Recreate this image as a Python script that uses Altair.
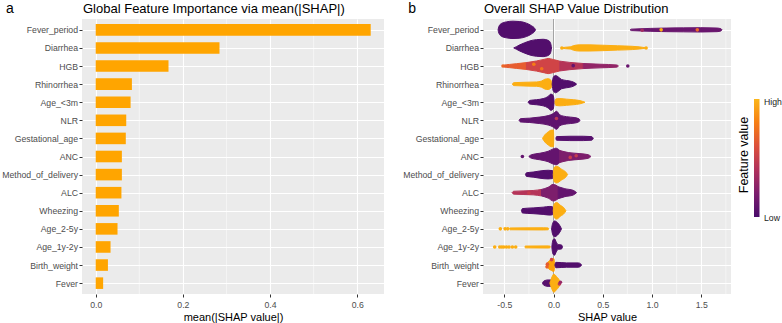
import json
import altair as alt
import pandas as pd

# ---------------- data ----------------
features = ["Fever_period", "Diarrhea", "HGB", "Rhinorrhea", "Age_<3m", "NLR",
            "Gestational_age", "ANC", "Method_of_delivery", "ALC", "Wheezing",
            "Age_2-5y", "Age_1y-2y", "Birth_weight", "Fever"]
mean_abs_shap = [0.631, 0.284, 0.167, 0.083, 0.080, 0.070, 0.069, 0.060,
                 0.060, 0.059, 0.053, 0.050, 0.034, 0.028, 0.017]

left_ticks = [0.0, 0.2, 0.4, 0.6]
left_minor = [0.1, 0.3, 0.5]
right_ticks = [-0.5, 0.0, 0.5, 1.0, 1.5]
right_minor = [-0.25, 0.25, 0.75, 1.25, 1.75]

# beeswarm outlines: (feature value 0..1, SHAP positions, half thickness in rows)
swarm_fever_period = [
    (0.03, [-0.563, -0.555, -0.530, -0.479, -0.411, -0.343, -0.275, -0.224, -0.190, -0.183],
           [0, 0.18, 0.35, 0.44, 0.48, 0.46, 0.37, 0.23, 0.07, 0]),
    (0.12, [0.777, 0.79, 0.879, 0.981, 1.151, 1.32, 1.49, 1.66, 1.70, 1.711],
           [0, 0.04, 0.06, 0.08, 0.10, 0.11, 0.12, 0.10, 0.06, 0]),
]
swarm_diarrhea = [
    (0.03, [-0.404, -0.377, -0.343, -0.292, -0.241, -0.173, -0.105, -0.054, -0.031, -0.020],
           [0, 0.07, 0.17, 0.29, 0.39, 0.46, 0.48, 0.42, 0.28, 0]),
    (0.95, [0.081, 0.12, 0.17, 0.20, 0.26, 0.37, 0.50, 0.65, 0.80, 0.87, 0.90, 0.94],
           [0, 0.04, 0.06, 0.12, 0.17, 0.17, 0.15, 0.12, 0.09, 0.06, 0.04, 0]),
]
swarm_hgb = [
    (0.66, [-0.513, -0.505, -0.445, -0.377, -0.275], [0, 0.05, 0.09, 0.13, 0.19]),
    (0.54, [-0.275, -0.173, -0.088, -0.054, -0.003, 0.064], [0.19, 0.28, 0.38, 0.42, 0.36, 0.27]),
    (0.42, [0.064, 0.166, 0.302], [0.27, 0.20, 0.14]),
    (0.28, [0.302, 0.472, 0.642, 0.659], [0.14, 0.10, 0.06, 0]),
]
swarm_rhinorrhea = [
    (0.95, [-0.418, -0.404, -0.309, -0.173, -0.122, -0.088, -0.054, -0.027, -0.014],
           [0, 0.08, 0.10, 0.12, 0.17, 0.27, 0.30, 0.22, 0]),
    (0.03, [-0.014, -0.003, 0.020, 0.048, 0.081, 0.132, 0.183, 0.217, 0.234],
           [0, 0.37, 0.48, 0.40, 0.26, 0.20, 0.15, 0.07, 0]),
]
swarm_age_3m = [
    (0.03, [-0.258, -0.241, -0.173, -0.105, -0.054, -0.027, -0.003, 0.007],
           [0, 0.10, 0.14, 0.20, 0.32, 0.45, 0.37, 0]),
    (0.95, [0.014, 0.024, 0.064, 0.132, 0.200, 0.268, 0.319],
           [0, 0.18, 0.20, 0.17, 0.14, 0.09, 0]),
]
swarm_nlr = [
    (0.08, [-0.350, -0.336, -0.241, -0.139, -0.054, -0.003, 0.031, 0.064, 0.132, 0.217, 0.261, 0.268],
           [0, 0.09, 0.12, 0.18, 0.26, 0.37, 0.50, 0.30, 0.20, 0.15, 0.07, 0]),
]
swarm_gestational_age = [
    (0.95, [-0.112, -0.088, -0.054, -0.020, 0.000, 0.003], [0, 0.20, 0.36, 0.46, 0.46, 0]),
    (0.05, [0.024, 0.031, 0.166, 0.302, 0.387, 0.404], [0, 0.10, 0.12, 0.12, 0.10, 0]),
]
swarm_anc = [
    (0.10, [-0.251, -0.224, -0.139, -0.054, -0.003, 0.024, 0.064],
           [0, 0.10, 0.18, 0.29, 0.42, 0.46, 0.33]),
    (0.20, [0.064, 0.149, 0.268, 0.353, 0.380], [0.33, 0.22, 0.16, 0.10, 0]),
]
swarm_method_of_delivery = [
    (0.03, [-0.285, -0.275, -0.207, -0.139, -0.054, -0.010, -0.003],
           [0, 0.10, 0.14, 0.20, 0.24, 0.22, 0]),
    (0.95, [-0.003, 0.007, 0.031, 0.081, 0.126, 0.143], [0, 0.40, 0.46, 0.30, 0.13, 0]),
]
swarm_alc = [
    (0.42, [-0.421, -0.404, -0.309, -0.207, -0.122], [0, 0.08, 0.10, 0.12, 0.18]),
    (0.20, [-0.122, -0.054, -0.003, 0.048], [0.18, 0.30, 0.46, 0.33]),
    (0.10, [0.048, 0.115, 0.200, 0.234], [0.33, 0.22, 0.13, 0]),
]
swarm_wheezing = [
    (0.03, [-0.326, -0.316, -0.207, -0.105, -0.037, -0.010, -0.003],
           [0, 0.12, 0.16, 0.20, 0.24, 0.22, 0]),
    (0.95, [-0.003, 0.007, 0.031, 0.071, 0.109, 0.126], [0, 0.38, 0.46, 0.30, 0.14, 0]),
]
swarm_age_2_5y = [
    (0.95, [-0.447, -0.440, -0.100, -0.054, -0.050], [0, 0.05, 0.06, 0.05, 0]),
    (0.03, [-0.020, -0.010, 0.010, 0.037, 0.064, 0.081], [0, 0.28, 0.44, 0.36, 0.18, 0]),
]
swarm_age_1y_2y = [
    (0.95, [-0.292, -0.285, -0.050, -0.037, -0.033], [0, 0.05, 0.06, 0.05, 0]),
    (0.03, [-0.017, -0.007, 0.010, 0.027, 0.048, 0.081, 0.092], [0, 0.37, 0.46, 0.28, 0.13, 0.11, 0]),
]
swarm_birth_weight = [
    (0.90, [-0.071, -0.054, -0.020, 0.003, 0.014], [0, 0.18, 0.30, 0.36, 0]),
    (0.03, [0.014, 0.024, 0.132, 0.251, 0.275, 0.285], [0, 0.15, 0.12, 0.12, 0.07, 0]),
]
swarm_fever = [
    (0.05, [-0.112, -0.098, -0.054, -0.010, 0.003], [0, 0.12, 0.18, 0.17, 0]),
    (0.95, [-0.037, -0.020, 0.003, 0.031, 0.058, 0.071], [0, 0.28, 0.50, 0.36, 0.17, 0]),
]

swarms = [swarm_fever_period, swarm_diarrhea, swarm_hgb, swarm_rhinorrhea, swarm_age_3m,
          swarm_nlr, swarm_gestational_age, swarm_anc, swarm_method_of_delivery, swarm_alc,
          swarm_wheezing, swarm_age_2_5y, swarm_age_1y_2y, swarm_birth_weight, swarm_fever]

# isolated points: feature, SHAP value, offset within row, feature value
dot_feature = ["Fever_period", "Fever_period", "Fever_period", "Diarrhea", "Diarrhea",
               "HGB", "HGB", "HGB", "HGB", "HGB", "NLR", "ANC", "ANC", "ANC", "ALC",
               "Age_2-5y", "Age_2-5y", "Age_2-5y",
               "Age_1y-2y", "Age_1y-2y", "Age_1y-2y", "Age_1y-2y", "Age_1y-2y", "Age_1y-2y",
               "Age_1y-2y", "Age_1y-2y",
               "Birth_weight", "Birth_weight", "Birth_weight", "Fever", "Fever"]
dot_shap = [1.093, 1.460, 0.900, 0.085, 0.940,
            0.754, -0.513, -0.200, 0.200, -0.120, 0.030, -0.316, 0.170, 0.230, -0.250,
            -0.540, -0.492, -0.465,
            -0.597, -0.546, -0.525, -0.505, -0.478, -0.452, -0.418, -0.384,
            -0.066, -0.062, -0.020, 0.060, 0.070]
dot_offset = [0.0, 0.0, 0.02, 0.0, 0.0,
              0.0, 0.0, -0.10, -0.02, 0.15, -0.10, 0.0, 0.05, -0.04, 0.02,
              0.0, 0.0, 0.0,
              0.0, 0.0, 0.0, 0.0, 0.0, 0.0, 0.0, 0.0,
              0.10, -0.05, -0.30, 0.05, -0.05]
dot_value = [0.95, 0.70, 0.35, 0.95, 0.95,
             0.12, 0.70, 0.78, 0.10, 0.75, 0.45, 0.10, 0.50, 0.48, 0.50,
             0.95, 0.95, 0.95,
             0.95, 0.95, 0.95, 0.95, 0.95, 0.95, 0.95, 0.95,
             0.68, 0.65, 0.55, 0.45, 0.30]

# colour bar stops (inferno, from low to high feature value)
legend_colors = ["#4a0c6b", "#7c1d6d", "#b0315b", "#dc503b", "#f67e14", "#fbb61a"]
legend_offsets = [0.0, 0.2, 0.4, 0.6, 0.8, 1.0]

# ---------------- tables ----------------
bars = pd.DataFrame({"feature": features, "mean_abs": mean_abs_shap})
bars["row"] = range(len(features))
bars["top"] = bars["row"] - 0.32
bars["bot"] = bars["row"] + 0.32
bars["base"] = 0.0

recs = []
k = 0
for r, blobs in enumerate(swarms):
    for fv, xs, hws in blobs:
        for x, hw in zip(xs, hws):
            recs.append({"blob": f"b{k:03d}", "x": x, "top": r - hw, "bot": r + hw, "fv": fv})
        k += 1
swarm_df = pd.DataFrame(recs)

dots = pd.DataFrame({"x": dot_shap, "fv": dot_value,
                     "y": [features.index(f) + o for f, o in zip(dot_feature, dot_offset)]})

# ---------------- styling ----------------
FONT = "Liberation Sans"
label_expr_y = json.dumps(features) + "[datum.value]"
yscale = alt.Scale(domain=[-0.6, 14.6], reverse=True, nice=False, zero=False)
yaxis = alt.Axis(values=list(range(len(features))), labelExpr=label_expr_y, title=None,
                 grid=True, labelPadding=1.5)

H = 275


def text_layer(txt, x, y, size, angle=0, align="left", baseline="alphabetic", color="black"):
    return alt.Chart(alt.Data(values=[{}])).mark_text(
        text=txt, align=align, baseline=baseline, fontSize=size, font=FONT, angle=angle,
        color=color).encode(x=alt.value(x), y=alt.value(y))


# ---- left: bar chart ----
xscale_l = alt.Scale(domain=[-0.0315, 0.6615], nice=False, zero=False)
xaxis_l = alt.Axis(values=left_ticks, format=".1f", title="mean(|SHAP value|)", grid=True)

bar_layer = alt.Chart(bars).mark_rect(color="#FFA500").encode(
    x=alt.X("mean_abs:Q", scale=xscale_l, axis=xaxis_l),
    x2="base:Q",
    y=alt.Y("top:Q", scale=yscale, axis=yaxis),
    y2="bot:Q",
)
minor_l = alt.Chart(pd.DataFrame({"v": left_minor})).mark_rule(
    color="white", strokeWidth=0.5).encode(x=alt.X("v:Q", scale=xscale_l, axis=xaxis_l))

left = alt.layer(
    minor_l, bar_layer,
    text_layer("a", -76, -6.3, 14),
    text_layer("Global Feature Importance via mean(|SHAP|)", 1, -6, 13),
).properties(width=302, height=H)

# ---- right: beeswarm ----
xscale_r = alt.Scale(domain=[-0.716, 1.802], nice=False, zero=False)
xaxis_r = alt.Axis(values=right_ticks, title="SHAP value", grid=True,
                   labelExpr="datum.value < 0 ? '-' + format(-datum.value, '.1f') : format(datum.value, '.1f')")
scheme = alt.SchemeParams(name="inferno", extent=[0.22, 0.85])
color_enc = alt.Color("fv:Q", scale=alt.Scale(scheme=scheme, domain=[0, 1]), legend=None)
stroke_enc = alt.Stroke("fv:Q", scale=alt.Scale(scheme=scheme, domain=[0, 1]), legend=None)

minor_r = alt.Chart(pd.DataFrame({"v": right_minor})).mark_rule(
    color="white", strokeWidth=0.5).encode(x=alt.X("v:Q", scale=xscale_r, axis=xaxis_r))
zero_r = alt.Chart(pd.DataFrame({"v": [0.0]})).mark_rule(
    color="#A3A3A3", strokeWidth=1).encode(x=alt.X("v:Q", scale=xscale_r, axis=xaxis_r))
area_r = alt.Chart(swarm_df).mark_area(
    orient="vertical", interpolate="monotone", strokeWidth=1, opacity=1).encode(
    x=alt.X("x:Q", scale=xscale_r, axis=xaxis_r),
    y=alt.Y("top:Q", scale=yscale, axis=yaxis, stack=None),
    y2="bot:Q",
    detail="blob:N",
    color=color_enc,
    stroke=stroke_enc,
)
dots_r = alt.Chart(dots).mark_circle(size=13, opacity=1).encode(
    x=alt.X("x:Q", scale=xscale_r, axis=xaxis_r),
    y=alt.Y("y:Q", scale=yscale, axis=yaxis),
    color=color_enc,
)

# colour bar legend
bar_gradient = alt.Gradient(
    gradient="linear", x1=0, x2=0, y1=1, y2=0,
    stops=[alt.GradientStop(color=c, offset=o) for c, o in zip(legend_colors, legend_offsets)])
legend_bar = alt.Chart(alt.Data(values=[{}])).mark_rect(color=bar_gradient).encode(
    x=alt.value(271), x2=alt.value(276.5), y=alt.value(80), y2=alt.value(198))

right = alt.layer(
    minor_r, zero_r, area_r, dots_r, legend_bar,
    text_layer("b", -74.7, -6.3, 14),
    text_layer("Overall SHAP Value Distribution", 1, -6, 13),
    text_layer("Feature value", 261, 136, 12.5, angle=270, align="center", baseline="middle"),
    text_layer("High", 281, 83, 8.7, baseline="middle", color="#1A1A1A"),
    text_layer("Low", 281, 199, 8.7, baseline="middle", color="#1A1A1A"),
).properties(width=248, height=H)

chart = alt.hconcat(left, right, spacing=18).properties(
    padding={"left": 1, "top": 1, "right": 0, "bottom": 0}
).configure(font=FONT).configure_view(fill="#EBEBEB", stroke=None).configure_axis(
    labelColor="#4D4D4D", labelFontSize=8.7, labelFont=FONT,
    tickColor="#333333", tickSize=3, tickWidth=1, domain=False,
    gridColor="white", gridWidth=1.1,
    titleColor="black", titleFontSize=11, titleFontWeight="normal", titleFont=FONT,
).configure_axisX(labelPadding=3, titlePadding=3).configure_axisY(labelPadding=1.5)

chart.save("out.html", embed_options={"renderer": "svg", "actions": False})
